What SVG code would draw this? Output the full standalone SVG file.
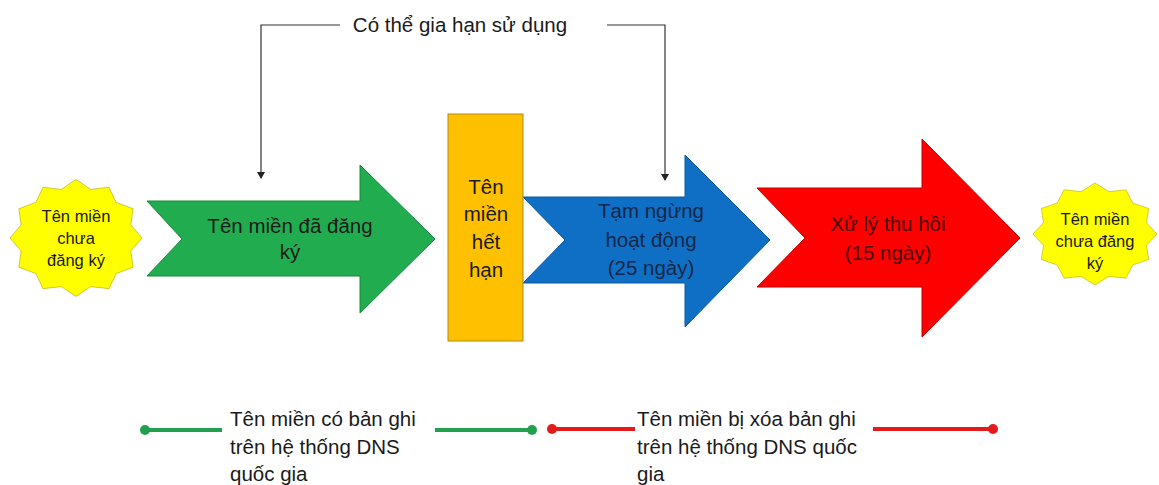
<svg xmlns="http://www.w3.org/2000/svg" width="1159" height="485" viewBox="0 0 1159 485">
<style>
text{font-family:"Liberation Sans",Arial,sans-serif;}
.lbl{font-size:20.5px;fill:#1a1a1a;text-anchor:middle;}
.star{fill:#ffff00;stroke:#b5a600;stroke-width:1;}
.sm{font-size:16.5px;fill:#1a1a1a;text-anchor:middle;}
.bt{font-size:20.5px;fill:#1a1a1a;}
.conn{fill:none;stroke:#333;stroke-width:1.2;}
</style>
<defs>
<marker id="ah" markerWidth="8" markerHeight="8" refX="6" refY="4" orient="auto" markerUnits="userSpaceOnUse">
<path d="M0,0 L7,4 L0,8 Z" fill="#222"/>
</marker>
<polygon id="star12" points="0,-100 22.3,-83.1 50,-86.6 60.8,-60.8 86.6,-50 83.1,-22.3 100,0 83.1,22.3 86.6,50 60.8,60.8 50,86.6 22.3,83.1 0,100 -22.3,83.1 -50,86.6 -60.8,60.8 -86.6,50 -83.1,22.3 -100,0 -83.1,-22.3 -86.6,-50 -60.8,-60.8 -50,-86.6 -22.3,-83.1"/>
</defs>
<rect width="1159" height="485" fill="#ffffff"/>

<g id="connectors">
<polyline class="conn" points="340,25 261,25 261,178" marker-end="url(#ah)"/>
<polyline class="conn" points="607,25 665,25 665,180" marker-end="url(#ah)"/>
<line x1="145" y1="430" x2="222" y2="430" stroke="#21a04e" stroke-width="4"/>
<line x1="435" y1="430" x2="532" y2="430" stroke="#21a04e" stroke-width="4"/>
<circle cx="145" cy="430" r="5" fill="#21a04e"/>
<circle cx="532" cy="430" r="5" fill="#21a04e"/>
<line x1="552" y1="429" x2="635" y2="429" stroke="#e31b1b" stroke-width="4"/>
<line x1="873" y1="429" x2="993" y2="429" stroke="#e31b1b" stroke-width="4"/>
<circle cx="552" cy="429" r="5" fill="#e31b1b"/>
<circle cx="993" cy="429" r="5" fill="#e31b1b"/>
</g>

<g id="label-top">
<text class="lbl" x="460" y="32">Có thể gia hạn sử dụng</text>
</g>

<g id="star-left">
<use href="#star12" class="star" transform="translate(76,238) scale(0.66,0.585)" vector-effect="non-scaling-stroke"/>
<text class="sm" x="76" y="222">Tên miền</text>
<text class="sm" x="76" y="244">chưa</text>
<text class="sm" x="76" y="266">đăng ký</text>
</g>

<g id="arrow-green">
<polygon points="147,201 360,201 360,165 435,239 360,313 360,276 147,276 182,239" fill="#21ad4f" stroke="#178a3b" stroke-width="1"/>
<text class="lbl" x="290" y="233">Tên miền đã đăng</text>
<text class="lbl" x="290" y="259">ký</text>
</g>

<g id="arrow-blue">
<polygon points="523,197 685,197 685,155 770,240 685,327 685,283 523,283 565,240" fill="#0f6fc4" stroke="#0b5aa0" stroke-width="1"/>
<text class="lbl" x="651" y="218" style="fill:#13284a">Tạm ngừng</text>
<text class="lbl" x="651" y="247" style="fill:#13284a">hoạt động</text>
<text class="lbl" x="651" y="275" style="fill:#13284a">(25 ngày)</text>
</g>

<g id="box-expired">
<rect x="448" y="114" width="75" height="227" fill="#ffc000" stroke="#b08a10" stroke-width="1"/>
<text class="lbl" x="486" y="194">Tên</text>
<text class="lbl" x="486" y="221">miền</text>
<text class="lbl" x="486" y="249">hết</text>
<text class="lbl" x="486" y="277">hạn</text>
</g>

<g id="arrow-red">
<polygon points="757,188 922,188 922,139 1020,238 922,337 922,287 757,287 805,238" fill="#ff0000" stroke="#c00000" stroke-width="1"/>
<text class="lbl" x="888" y="231" style="fill:#4a0808">Xử lý thu hồi</text>
<text class="lbl" x="888" y="260" style="fill:#4a0808">(15 ngày)</text>
</g>

<g id="star-right">
<use href="#star12" class="star" transform="translate(1095,234) scale(0.62,0.51)" vector-effect="non-scaling-stroke"/>
<text class="sm" x="1095" y="225">Tên miền</text>
<text class="sm" x="1095" y="247">chưa đăng</text>
<text class="sm" x="1095" y="269">ký</text>
</g>

<g id="legend-green">
<text class="bt" x="230" y="426">Tên miền có bản ghi</text>
<text class="bt" x="230" y="454">trên hệ thống DNS</text>
<text class="bt" x="230" y="481">quốc gia</text>
</g>

<g id="legend-red">
<text class="bt" x="637" y="426">Tên miền bị xóa bản ghi</text>
<text class="bt" x="637" y="454">trên hệ thống DNS quốc</text>
<text class="bt" x="637" y="481">gia</text>
</g>
</svg>
